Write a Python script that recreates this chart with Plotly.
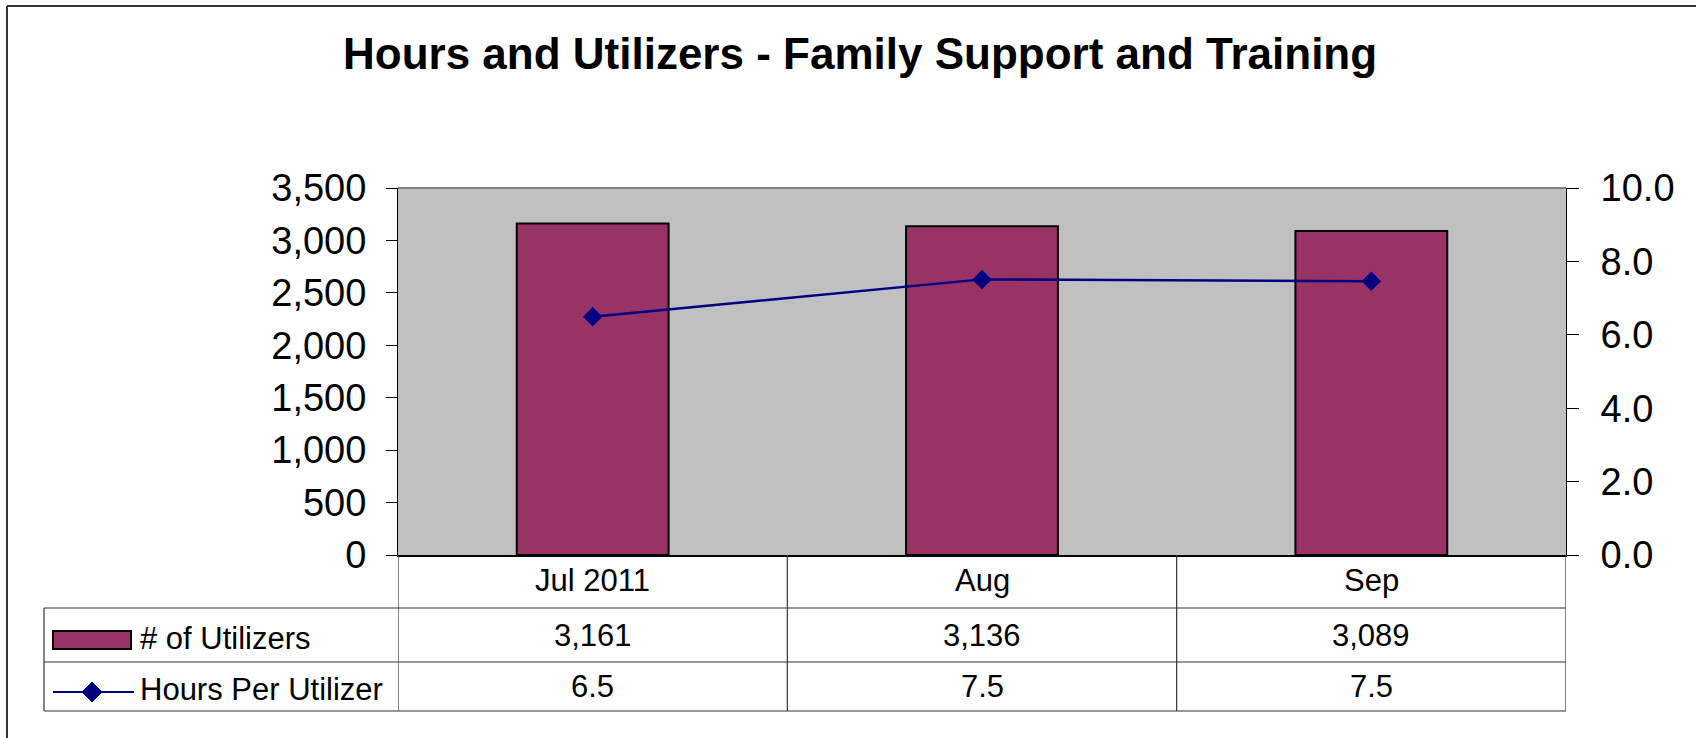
import plotly.graph_objects as go

# ---- data ----
categories = ["Jul 2011", "Aug", "Sep"]
utilizers = [3161, 3136, 3089]
hours_per_utilizer = [6.49, 7.51, 7.46]
series_names = ["# of Utilizers", "Hours Per Utilizer"]
title_text = "Hours and Utilizers - Family Support and Training"

W, H = 1696, 738
L, R, T, B = 398, 1566, 188, 555  # plot area in px
PW, PH = R - L, B - T

def px(x):
    return (x - L) / PW

def py(y):
    return (B - y) / PH

FONT = "Liberation Sans, Arial, sans-serif"
BAR = "#993366"
NAVY = "#000080"

fig = go.Figure()
fig.add_trace(go.Bar(
    x=categories, y=utilizers, name=series_names[0], width=0.39,
    marker=dict(color=BAR, line=dict(color="black", width=2)),
    yaxis="y", showlegend=False,
))
fig.add_trace(go.Scatter(
    x=categories, y=hours_per_utilizer, name=series_names[1], mode="lines+markers",
    line=dict(color=NAVY, width=2.5),
    marker=dict(symbol="diamond", size=15, color=NAVY),
    yaxis="y2", showlegend=False,
))

axfont = dict(family=FONT, size=38, color="black")
fig.update_layout(
    width=W, height=H,
    margin=dict(l=L, r=W - R, t=T, b=H - B, pad=0),
    paper_bgcolor="white", plot_bgcolor="#C0C0C0",
    font=dict(family=FONT, color="black"),
    xaxis=dict(type="category", range=[-0.5, 2.5], showticklabels=False, ticks="",
               showline=True, linecolor="black", linewidth=1.5, showgrid=False, zeroline=False),
    yaxis=dict(range=[0, 3500], dtick=500, tickformat=",", ticks="outside", ticklen=11,
               tickcolor="black", tickwidth=1, showline=True, linecolor="black", linewidth=1,
               showgrid=False, zeroline=False, tickfont=axfont, ticklabelstandoff=12),
    yaxis3=dict(range=[0, 3500], dtick=500, overlaying="y", side="left", anchor="x",
                ticks="inside", ticklen=12, tickcolor="black", showticklabels=False,
                showline=False, showgrid=False, zeroline=False),
    yaxis2=dict(range=[0, 10], dtick=2, tickformat=".1f", overlaying="y", side="right",
                anchor="x", ticks="outside", ticklen=12, tickcolor="black", showline=True,
                linecolor="black", linewidth=1, showgrid=False, zeroline=False,
                tickfont=axfont, ticklabelstandoff=14),
    yaxis4=dict(range=[0, 10], dtick=2, overlaying="y", side="right", anchor="x",
                ticks="inside", ticklen=12, tickcolor="black", showticklabels=False,
                showline=False, showgrid=False, zeroline=False),
    bargap=0.61,
)

shapes = []
# outer chart border (top and left)
shapes.append(dict(type="line", xref="paper", yref="paper", x0=px(7), x1=px(W), y0=py(6), y1=py(6),
                   line=dict(color="#333333", width=2)))
shapes.append(dict(type="line", xref="paper", yref="paper", x0=px(7), x1=px(7), y0=py(6), y1=py(H),
                   line=dict(color="#333333", width=2)))
# plot area top border
shapes.append(dict(type="line", xref="paper", yref="paper", x0=0, x1=1, y0=1, y1=1,
                   line=dict(color="#808080", width=2)))

# data table grid
row_lines = [608, 662, 711]
for yy in row_lines:
    shapes.append(dict(type="line", xref="paper", yref="paper", x0=px(44), x1=1, y0=py(yy), y1=py(yy),
                       line=dict(color="#333333", width=1.2)))
shapes.append(dict(type="line", xref="paper", yref="paper", x0=px(44), x1=px(44), y0=py(608), y1=py(711),
                   line=dict(color="#333333", width=1.2)))
n = len(categories)
for k in range(n + 1):
    xb = k - 0.5
    shapes.append(dict(type="line", xref="x", yref="paper", x0=xb, x1=xb, y0=0, y1=py(711),
                       line=dict(color="#333333", width=1.2)))

# legend keys
shapes.append(dict(type="rect", xref="paper", yref="paper", x0=px(53), x1=px(131), y0=py(631), y1=py(649),
                   fillcolor=BAR, line=dict(color="black", width=2)))
shapes.append(dict(type="line", xref="paper", yref="paper", x0=px(53), x1=px(134), y0=py(692), y1=py(692),
                   line=dict(color=NAVY, width=2)))
cx, cy, r = 92, 692, 10
shapes.append(dict(type="path", xref="paper", yref="paper",
                   path=f"M {px(cx-r)},{py(cy)} L {px(cx)},{py(cy-r)} L {px(cx+r)},{py(cy)} L {px(cx)},{py(cy+r)} Z",
                   fillcolor=NAVY, line=dict(color=NAVY, width=1)))

annotations = []
tfont = dict(family=FONT, size=31, color="black")
for i, c in enumerate(categories):
    annotations.append(dict(x=c, y=py(580), xref="x", yref="paper", text=c, showarrow=False,
                            font=tfont, xanchor="center", yanchor="middle"))
    annotations.append(dict(x=c, y=py(635), xref="x", yref="paper", text=f"{utilizers[i]:,}",
                            showarrow=False, font=tfont, xanchor="center", yanchor="middle"))
    annotations.append(dict(x=c, y=py(686), xref="x", yref="paper", text=f"{hours_per_utilizer[i]:.1f}",
                            showarrow=False, font=tfont, xanchor="center", yanchor="middle"))
annotations.append(dict(x=px(138), y=py(638), xref="paper", yref="paper", text=series_names[0],
                        showarrow=False, font=tfont, xanchor="left", yanchor="middle"))
annotations.append(dict(x=px(138), y=py(689), xref="paper", yref="paper", text=series_names[1],
                        showarrow=False, font=tfont, xanchor="left", yanchor="middle"))
annotations.append(dict(x=px(860), y=py(54), xref="paper", yref="paper", text=f"<b>{title_text}</b>",
                        showarrow=False, font=dict(family=FONT, size=44, color="black"),
                        xanchor="center", yanchor="middle"))

fig.update_layout(shapes=shapes, annotations=annotations)
fig.write_html("out.html", config={"displayModeBar": False},
               post_script="document.body.style.margin='0';document.body.style.overflow='hidden';")
